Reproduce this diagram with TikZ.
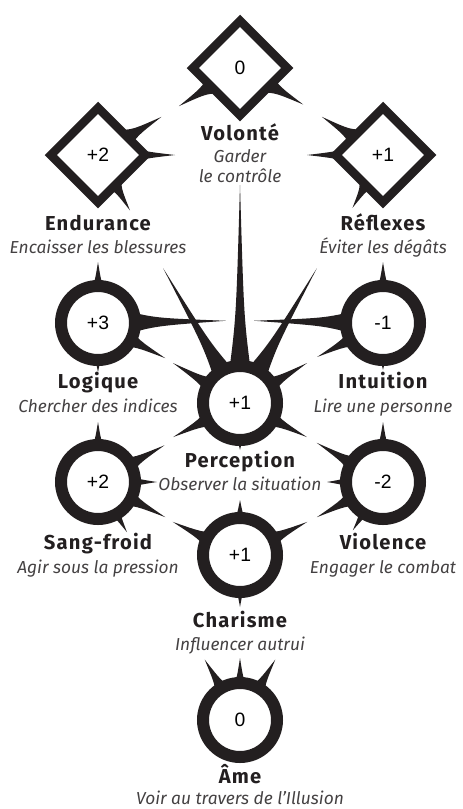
\documentclass[tikz,border=0pt]{standalone}
\usepackage{fontspec}
\setmainfont{Fira Sans}
\newfontfamily\numfont{Liberation Sans}
\newfontfamily\titlefont{Fira Sans}[LetterSpace=6]
\usetikzlibrary{shapes.geometric,calc}
\definecolor{ink}{RGB}{35,31,32}
\pgfdeclarelayer{bg}
\pgfsetlayers{bg,main}

\begin{document}
\begin{tikzpicture}[x=0.03cm,y=-0.03cm,
  ring/.style={circle,draw=ink,line width=0.36cm,fill=white,minimum size=2.22cm,inner sep=0pt,font=\numfont\fontsize{16.5}{16.5}\selectfont},
  dia/.style={diamond,aspect=1,draw=ink,line width=0.255cm,fill=white,minimum width=2.94cm,minimum height=2.94cm,inner sep=0pt,font=\numfont\fontsize{16.5}{16.5}\selectfont},
  title/.style={anchor=base,text=ink,font=\titlefont\bfseries\fontsize{17.2}{17.2}\selectfont},
  sub/.style={anchor=base,text=ink!85,font=\itshape\fontsize{14.8}{14.8}\selectfont}]
  \useasboundingbox (0,0) rectangle (462,809);
  % diamonds
  \node[dia] (vol) at (240,68) {0};
  \node[dia] (endu) at (98,155) {+2};
  \node[dia] (refl) at (383,155) {+1};
  % rings
  \node[ring] (logi) at (98,323) {+3};
  \node[ring] (perc) at (240,403) {+1};
  \node[ring] (intu) at (383,323) {-1};
  \node[ring] (sang) at (98,482) {+2};
  \node[ring] (viol) at (383,482) {-2};
  \node[ring] (chari) at (240,555) {+1};
  \node[ring] (ame) at (240,720) {0};
  % spikes
  \begin{pgfonlayer}{bg}
  \foreach \n/\ang/\len/\hw in {vol/148/72/11, vol/30/73/11,
      endu/-31/74/11, endu/0/77/11, endu/60/64/10,
      refl/212/72/11, refl/180/76/11, refl/120/61/10,
      logi/-90/61/10, logi/-1/128/11, logi/27.6/76/11, logi/90/49/8,
      intu/-90/61/10, intu/181/129/11, intu/152.7/74/11, intu/90/47/8,
      perc/-90/218/11, perc/240.3/155/11, perc/-60.3/155/11, perc/210.8/78/11,
      perc/-30.8/78/11, perc/153/75/11, perc/27/75/11, perc/90/47/8,
      sang/-90/60/10, sang/-28.9/76/11, sang/0/59/9, sang/27.6/76/11, sang/60/58/9,
      viol/-90/60/10, viol/210.6/77/11, viol/180/56/9, viol/152/75/11, viol/122/57/9,
      chari/-90/55/10, chari/206.2/75/11, chari/-26.2/75/11, chari/90/52/8,
      ame/-90/62/10, ame/239.7/70/11, ame/-59.7/70/11} {
    \pgfmathsetmacro\mr{30+0.3*(\len-30)}
    \pgfmathsetmacro\cw{0.35*\hw}
    \fill[ink] ($(\n)+(\ang:30)+(\ang+90:\hw)$) .. controls ($(\n)+(\ang:\mr)+(\ang+90:\cw)$) .. ($(\n)+(\ang:\len)$)
      .. controls ($(\n)+(\ang:\mr)+(\ang-90:\cw)$) .. ($(\n)+(\ang:30)+(\ang-90:\hw)$) -- cycle;
  }
  \end{pgfonlayer}
  % labels
  \node[title] (volT) at (240,140) {Volonté};
  \node[sub] (volS) at (240,162) {Garder};
  \node[sub] (volS2) at (240,182) {le contrôle};
  \node[title] (enduT) at (98,230) {Endurance};
  \node[sub] (enduS) at (98,253) {Encaisser les blessures};
  \node[title] (reflT) at (383,230) {Réflexes};
  \node[sub] (reflS) at (383,253) {Éviter les dégâts};
  \node[title] (logiT) at (98,388) {Logique};
  \node[sub] (logiS) at (98,412) {Chercher des indices};
  \node[title] (intuT) at (383,388) {Intuition};
  \node[sub] (intuS) at (383,412) {Lire une personne};
  \node[title] (percT) at (240,467) {Perception};
  \node[sub] (percS) at (240,490) {Observer la situation};
  \node[title] (sangT) at (98,549) {Sang-froid};
  \node[sub] (sangS) at (98,573) {Agir sous la pression};
  \node[title] (violT) at (383,549) {Violence};
  \node[sub] (violS) at (383,573) {Engager le combat};
  \node[title] (chariT) at (240,627) {Charisme};
  \node[sub] (chariS) at (240,650) {Influencer autrui};
  \node[title] (ameT) at (240,783) {Âme};
  \node[sub] (ameS) at (240,804) {Voir au travers de l’Illusion};
\end{tikzpicture}
\end{document}
